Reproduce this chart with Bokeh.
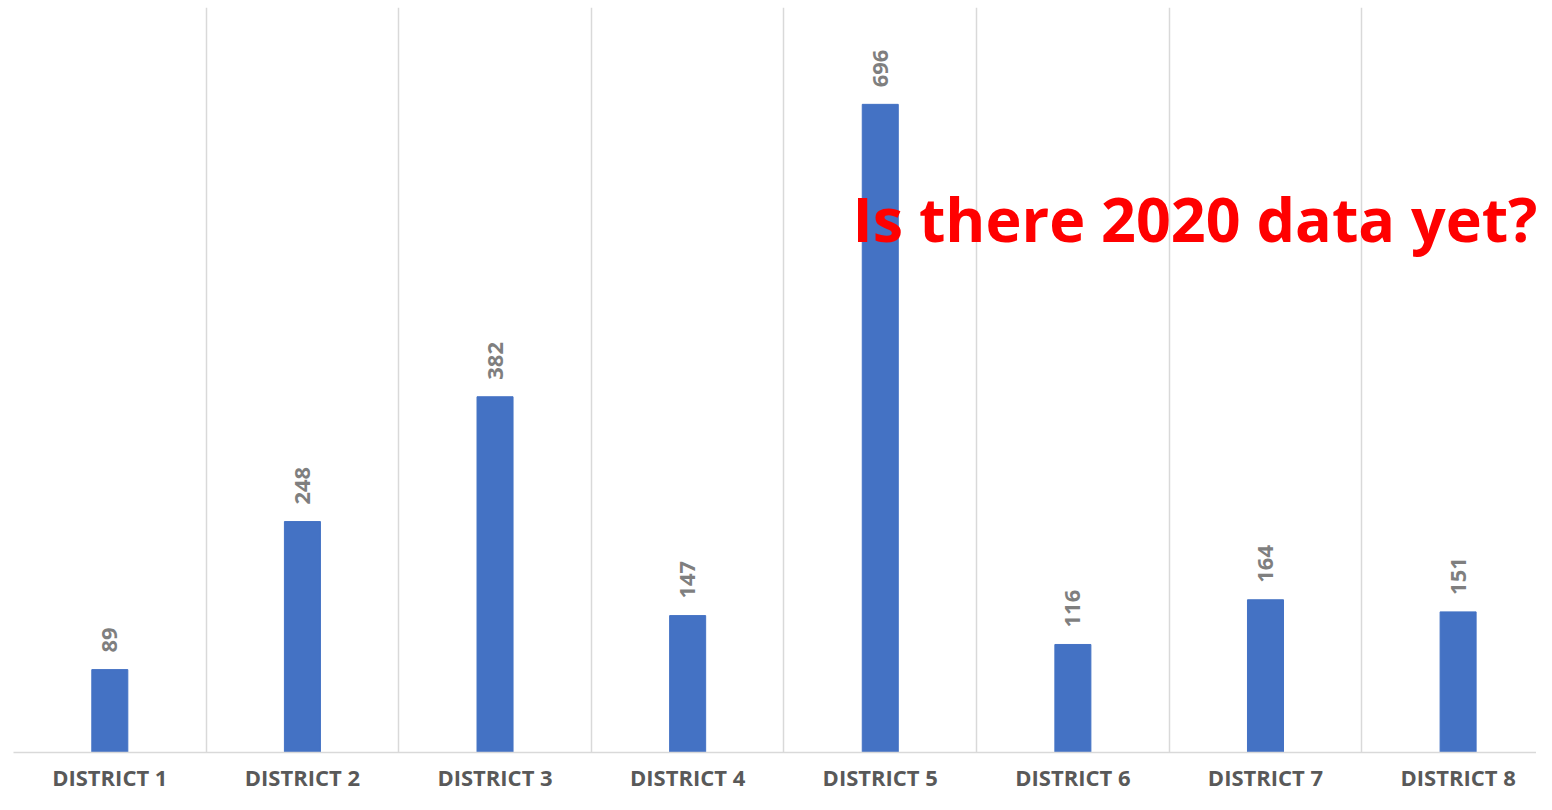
import numpy as np
from bokeh.plotting import figure
from bokeh.models import ColumnDataSource, FixedTicker, Grid, Range1d
from bokeh.core.properties import value
from bokeh.embed import file_html
from bokeh.resources import INLINE

districts = ["DISTRICT 1", "DISTRICT 2", "DISTRICT 3", "DISTRICT 4",
             "DISTRICT 5", "DISTRICT 6", "DISTRICT 7", "DISTRICT 8"]
counts = [89, 248, 382, 147, 696, 116, 164, 151]
overlay_text = "Is there 2020 data yet?"

n = len(districts)
centers = np.arange(n) + 0.5
src = ColumnDataSource(dict(x=centers, top=counts, lbl=[str(c) for c in counts]))

p = figure(width=1536, height=794, output_backend="svg", toolbar_location=None,
           x_range=Range1d(0, 7.907), y_range=Range1d(0, 800),
           min_border_left=13, min_border_right=0, min_border_top=7, min_border_bottom=0)
p.outline_line_color = None
p.background_fill_color = "white"
p.border_fill_color = "white"

p.vbar(x="x", top="top", width=0.187, source=src, color="#4472C4")

p.text(x="x", y="top", text="lbl", source=src, angle=np.pi / 2,
       x_offset=0, y_offset=-17, text_align="left", text_baseline="middle",
       text_font=value("Open Sans"), text_font_style="bold", text_font_size="22px",
       text_color="#7F7F7F")

p.text(x=[4.356], y=[573], text=[overlay_text], text_align="left", text_baseline="alphabetic",
       text_font=value("Open Sans"), text_font_style="bold", text_font_size="61px",
       text_color="#FF0000")

p.xgrid.visible = False
p.ygrid.visible = False
grid = Grid(dimension=0, ticker=FixedTicker(ticks=list(range(n + 1))),
            grid_line_color="#D9D9D9", grid_line_width=1.5)
p.add_layout(grid)

p.yaxis.visible = False
xa = p.xaxis[0]
xa.ticker = FixedTicker(ticks=list(centers))
xa.major_label_overrides = {float(c): d for c, d in zip(centers, districts)}
xa.major_label_text_font = "Open Sans"
xa.major_label_text_font_style = "bold"
xa.major_label_text_font_size = "22px"
xa.major_label_text_color = "#595959"
xa.major_label_standoff = 3
xa.major_tick_line_color = None
xa.minor_tick_line_color = None
xa.axis_line_color = "#D9D9D9"
xa.axis_line_width = 1.5

open("out.html", "w").write(file_html(p, INLINE))
